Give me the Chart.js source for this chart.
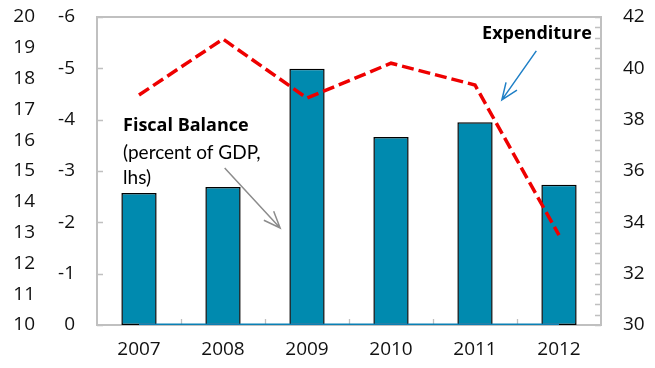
<!DOCTYPE html>
<html>
<head>
<meta charset="utf-8">
<script src="https://cdn.jsdelivr.net/npm/chart.js@4.4.0/dist/chart.umd.min.js"></script>
<style>
  html, body { margin: 0; padding: 0; background: #fff; }
  #wrap { width: 655px; height: 368px; }
</style>
</head>
<body>
<div id="wrap"><canvas id="chart"></canvas></div>
<script>
// Fiscal balance (bars, inner left axis, reversed) vs expenditure (dashed, right axis)
const years = ['2007', '2008', '2009', '2010', '2011', '2012'];
const fiscalBalance = [-2.57, -2.69, -4.99, -3.66, -3.95, -2.73];
const expenditure = [38.96, 41.14, 38.84, 40.2, 39.35, 33.5];
const baseline = [0, 0, 0, 0, 0, 0];

const TEAL = '#008aaf';
const FRAME = '#c0c0c0';
const TICK_FONT = { family: '"Open Sans", "Noto Sans", sans-serif', size: 19 };

// fixed axis box sizes; the label padding must not push the plot down
const fixSize = (w, h) => (scale) => {
  if (w !== undefined) scale.width = w;
  if (h !== undefined) scale.height = h;
  scale.paddingTop = 0;
  scale.paddingBottom = 0;
  scale.paddingLeft = 0;
  scale.paddingRight = 0;
};

// grey frame around the plot and the short inward tick marks
const framePlugin = {
  id: 'frame',
  beforeDatasetsDraw(chart) {
    const { ctx, chartArea: a, scales } = chart;
    ctx.save();
    ctx.strokeStyle = FRAME;
    ctx.lineWidth = 2;
    ctx.strokeRect(a.left, a.top, a.right - a.left, a.bottom - a.top);
    ctx.lineWidth = 1.3;
    ctx.beginPath();
    scales.yBal.ticks.forEach((t) => {
      const y = Math.round(scales.yBal.getPixelForValue(t.value)) + 0.5;
      ctx.moveTo(a.left, y); ctx.lineTo(a.left + 6, y);
    });
    scales.yExp.ticks.forEach((t) => {
      const y = Math.round(scales.yExp.getPixelForValue(t.value)) + 0.5;
      ctx.moveTo(a.right - 6, y); ctx.lineTo(a.right, y);
    });
    for (let i = 1; i < years.length; i++) {
      const x = Math.round(scales.x.getPixelForValue(i - 0.5)) + 0.5;
      ctx.moveTo(x, a.bottom); ctx.lineTo(x, a.bottom - 6);
    }
    ctx.stroke();
    ctx.restore();
  },
};

// text labels with their pointer arrows, placed in category / expenditure units
const BOLD_NOTE = 'bold 18px "Open Sans", sans-serif';
const PLAIN_NOTE = '19px Lato, "Open Sans", sans-serif';
const notes = [
  { text: 'Fiscal Balance', font: BOLD_NOTE, x: -0.19, y: 37.56, align: 'left' },
  { text: '(percent of GDP,', font: PLAIN_NOTE, x: -0.19, y: 36.47, align: 'left' },
  { text: 'lhs)', font: PLAIN_NOTE, x: -0.19, y: 35.49, align: 'left' },
  { text: 'Expenditure', font: BOLD_NOTE, x: 5.39, y: 41.14, align: 'right' },
];
const arrows = [
  { from: [1.02, 36.12], to: [1.68, 33.78], color: '#8c8c8c' },
  { from: [4.73, 40.68], to: [4.32, 38.77], color: '#1e7fc6' },
];

const notesPlugin = {
  id: 'notes',
  afterDatasetsDraw(chart) {
    const { ctx, scales } = chart;
    const px = (p) => [scales.x.getPixelForValue(p[0]), scales.yExp.getPixelForValue(p[1])];
    ctx.save();
    ctx.fillStyle = '#000';
    ctx.textBaseline = 'alphabetic';
    notes.forEach((n) => {
      ctx.font = n.font;
      ctx.textAlign = n.align;
      const [x, y] = px([n.x, n.y]);
      ctx.fillText(n.text, x, y);
    });
    arrows.forEach((ar) => {
      const [x0, y0] = px(ar.from);
      const [x1, y1] = px(ar.to);
      const ang = Math.atan2(y1 - y0, x1 - x0);
      const head = 18, spread = 0.38;
      ctx.strokeStyle = ar.color;
      ctx.lineWidth = 1.5;
      ctx.beginPath();
      ctx.moveTo(x0, y0); ctx.lineTo(x1, y1);
      ctx.moveTo(x1 - head * Math.cos(ang - spread), y1 - head * Math.sin(ang - spread));
      ctx.lineTo(x1, y1);
      ctx.lineTo(x1 - head * Math.cos(ang + spread), y1 - head * Math.sin(ang + spread));
      ctx.stroke();
    });
    ctx.restore();
  },
};

new Chart(document.getElementById('chart'), {
  data: {
    labels: years,
    datasets: [
      {
        type: 'line', label: 'Expenditure', data: expenditure, yAxisID: 'yExp',
        borderColor: '#ee0000', borderWidth: 3.5, borderDash: [12, 5],
        pointRadius: 0, tension: 0, fill: false,
      },
      {
        type: 'line', label: 'baseline', data: baseline, yAxisID: 'yBal',
        borderColor: '#0a80b5', borderWidth: 3, pointRadius: 0, fill: false,
      },
      {
        type: 'bar', label: 'Fiscal Balance', data: fiscalBalance, yAxisID: 'yBal',
        backgroundColor: TEAL, borderColor: '#000', borderWidth: 1.5, borderSkipped: false,
        categoryPercentage: 1, barPercentage: 0.42,
      },
    ],
  },
  options: {
    responsive: true, maintainAspectRatio: false, animation: false, events: [],
    layout: { padding: { top: 17, left: 0, right: 0, bottom: 0 } },
    plugins: { legend: { display: false }, tooltip: { enabled: false } },
    scales: {
      x: {
        type: 'category', position: 'bottom', offset: true,
        grid: { display: false, drawTicks: false }, border: { display: false },
        ticks: { font: TICK_FONT, color: '#111', padding: 13, maxRotation: 0 },
        afterFit: fixSize(undefined, 43),
      },
      yOuter: {
        type: 'linear', position: 'left', weight: 1, min: 10, max: 20,
        grid: { display: false, drawTicks: false }, border: { display: false },
        ticks: { stepSize: 1, font: TICK_FONT, color: '#111', padding: 5 },
        afterFit: fixSize(40),
      },
      yBal: {
        type: 'linear', position: 'left', weight: 0, min: -6, max: 0, reverse: true,
        grid: { display: false, drawTicks: false }, border: { display: false },
        ticks: { stepSize: 1, font: TICK_FONT, color: '#111', padding: 22 },
        afterFit: fixSize(57),
      },
      yExp: {
        type: 'linear', position: 'right', min: 30, max: 42,
        grid: { display: false, drawTicks: false }, border: { display: false },
        ticks: {
          stepSize: 0.4, autoSkip: false, font: TICK_FONT, color: '#111', padding: 22,
          callback: (v) => (Math.round(v * 10) % 20 === 0 ? String(Math.round(v)) : ''),
        },
        afterFit: fixSize(54),
      },
    },
  },
  plugins: [framePlugin, notesPlugin],
});
</script>
</body>
</html>
